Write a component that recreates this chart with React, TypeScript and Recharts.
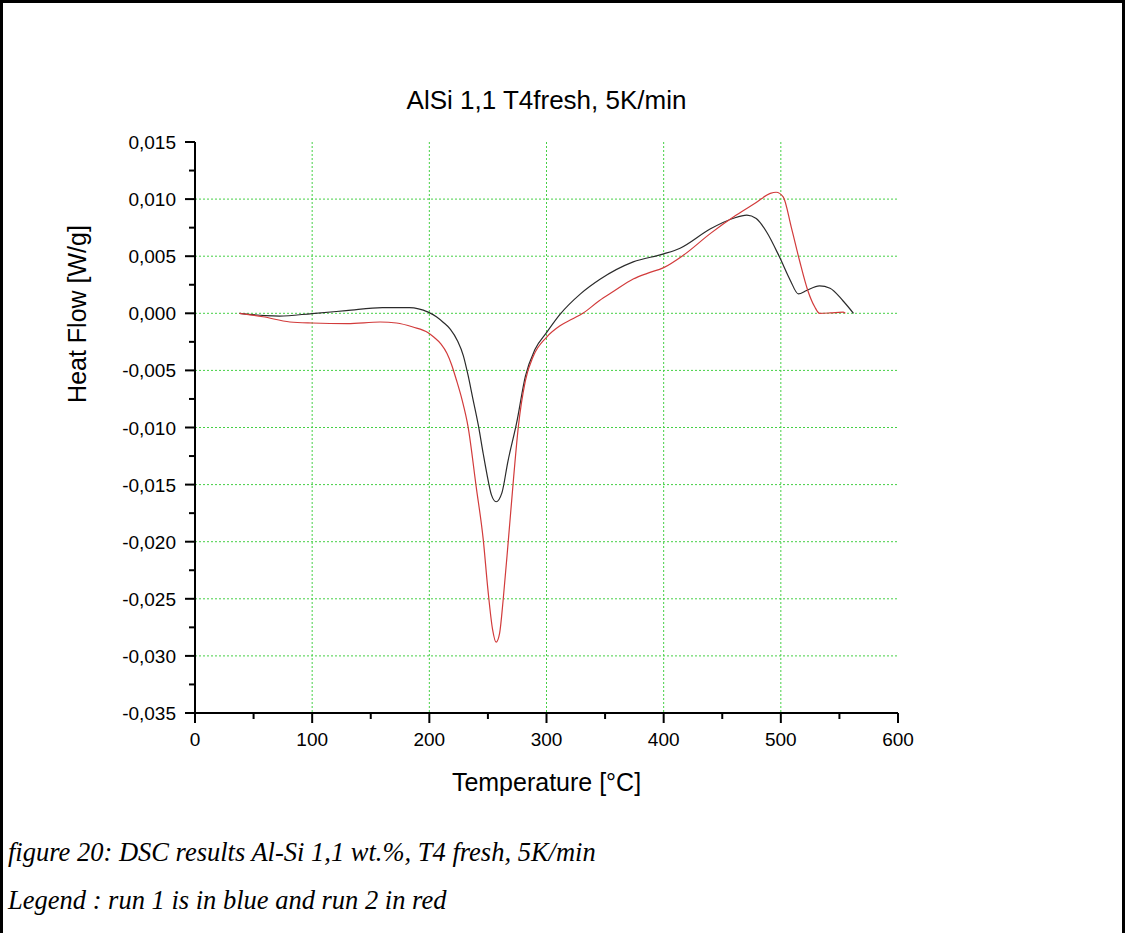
import { CartesianGrid, Label, Line, LineChart, XAxis, YAxis } from "recharts";

// DSC run 1 (dark trace) and run 2 (red trace)
const run1Temp = [38, 60, 72, 100, 129, 160, 183, 199, 206, 212, 218, 224, 229, 233, 237, 242, 246, 249, 253, 257, 262, 267, 274.5, 282, 290, 300, 311.5, 329, 346, 374, 400, 414, 440, 459, 471, 479, 488, 499, 508, 515, 522, 533, 542, 553, 562];
const run1Flow = [0, -0.0002, -0.00024, -0.00002, 0.00023, 0.0005, 0.0005, 0.0001, -0.0003, -0.0008, -0.0014, -0.0024, -0.0037, -0.0054, -0.0074, -0.0099, -0.0123, -0.014, -0.0159, -0.0165, -0.0157, -0.013, -0.0096, -0.0055, -0.0032, -0.0017, -0.0001, 0.0017, 0.003, 0.0045, 0.0052, 0.0057, 0.0074, 0.0083, 0.0086, 0.0083, 0.0071, 0.0049, 0.0029, 0.0017, 0.002, 0.0024, 0.0022, 0.0011, 0];

const run2Temp = [38, 58, 81, 100, 130, 158, 172, 186, 199, 204, 210, 215, 219, 223, 228, 233, 240, 246, 250, 254, 257, 260, 263, 267.5, 272, 276, 282, 289, 300, 311.5, 322, 331, 345, 357, 374, 386, 400, 417, 440, 462, 479, 491, 496, 502, 509, 516, 523, 529, 533, 542, 553, 555];
const run2Flow = [0, -0.0003, -0.00076, -0.00085, -0.0009, -0.00076, -0.00085, -0.0012, -0.0017, -0.0021, -0.0027, -0.0035, -0.0045, -0.0058, -0.0076, -0.0099, -0.0152, -0.0198, -0.0242, -0.0277, -0.0288, -0.028, -0.0251, -0.0198, -0.0143, -0.0099, -0.0059, -0.0037, -0.0021, -0.0011, -0.0005, 0, 0.0011, 0.0019, 0.003, 0.0035, 0.004, 0.0051, 0.007, 0.0086, 0.0097, 0.0105, 0.0106, 0.0102, 0.0075, 0.0046, 0.002, 0.00055, 0, 0.00003, 0.0001, 0];

// major + minor ticks; minor ones get a short tick and no label
const xTicks = [0, 50, 100, 150, 200, 250, 300, 350, 400, 450, 500, 550, 600];
const xLabelled = [0, 100, 200, 300, 400, 500, 600];
const yTicks = [-0.035, -0.0325, -0.03, -0.0275, -0.025, -0.0225, -0.02, -0.0175, -0.015, -0.0125, -0.01, -0.0075, -0.005, -0.0025, 0, 0.0025, 0.005, 0.0075, 0.01, 0.0125, 0.015];
const yLabelled = [-0.035, -0.03, -0.025, -0.02, -0.015, -0.01, -0.005, 0, 0.005, 0.01, 0.015];
const xGrid = [100, 200, 300, 400, 500];
const yGrid = [-0.03, -0.025, -0.02, -0.015, -0.01, -0.005, 0, 0.005, 0.01];

const run1 = run1Temp.map((t, i) => ({ t, v: run1Flow[i] }));
const run2 = run2Temp.map((t, i) => ({ t, v: run2Flow[i] }));

const SANS = "'Liberation Sans', Arial, sans-serif";
const isLabelled = (list: number[], v: number) => list.some((m) => Math.abs(m - v) < 1e-9);
const fmt = (v: number) => (Math.abs(v) < 1e-9 ? "0,000" : v.toFixed(3).replace(".", ","));

function XTick({ x, y, payload }: any) {
  const major = isLabelled(xLabelled, payload.value);
  return (
    <g>
      <line x1={x} x2={x} y1={y} y2={y + (major ? 10 : 6)} stroke="#000" strokeWidth={2} />
      {major && (
        <text x={x} y={y + 33} textAnchor="middle" fontFamily={SANS} fontSize={19} fill="#000">
          {payload.value}
        </text>
      )}
    </g>
  );
}

function YTick({ x, y, payload }: any) {
  const major = isLabelled(yLabelled, payload.value);
  return (
    <g>
      <line x1={x} x2={x - (major ? 10 : 6)} y1={y} y2={y} stroke="#000" strokeWidth={2} />
      {major && (
        <text x={x - 19} y={y + 7} textAnchor="end" fontFamily={SANS} fontSize={19} fill="#000">
          {fmt(payload.value)}
        </text>
      )}
    </g>
  );
}

export default function App() {
  return (
    <div style={{ position: "fixed", left: 0, top: 0, width: 1125, height: 933, background: "#fff" }}>
      <div
        style={{
          position: "absolute",
          left: 0,
          top: 0,
          width: 1119,
          height: 933,
          borderLeft: "3px solid #000",
          borderTop: "3px solid #000",
          borderRight: "3px solid #000",
        }}
      />
      <div
        style={{
          position: "absolute",
          left: 195,
          width: 703,
          top: 84,
          textAlign: "center",
          fontFamily: SANS,
          fontSize: 26,
          lineHeight: "32px",
        }}
      >
        AlSi 1,1 T4fresh, 5K/min
      </div>
      <div style={{ position: "absolute", left: 0, top: 0 }}>
        <LineChart width={1125} height={933} margin={{ top: 142, right: 227, bottom: 160, left: 115 }}>
          <CartesianGrid
            stroke="#45d045"
            strokeDasharray="2 2"
            horizontalValues={yGrid}
            verticalValues={xGrid}
          />
          <XAxis
            type="number"
            dataKey="t"
            domain={[0, 600]}
            ticks={xTicks}
            interval={0}
            height={60}
            tickSize={0}
            tickMargin={0}
            tick={<XTick />}
            tickLine={false}
            axisLine={{ stroke: "#000", strokeWidth: 2 }}
          >
            <Label
              content={({ viewBox }: any) => (
                <text
                  x={viewBox.x + viewBox.width / 2}
                  y={viewBox.y + 78}
                  textAnchor="middle"
                  fontFamily={SANS}
                  fontSize={25}
                  fill="#000"
                >
                  Temperature [°C]
                </text>
              )}
            />
          </XAxis>
          <YAxis
            type="number"
            domain={[-0.035, 0.015]}
            ticks={yTicks}
            interval={0}
            width={80}
            tickSize={0}
            tickMargin={0}
            tick={<YTick />}
            tickLine={false}
            axisLine={{ stroke: "#000", strokeWidth: 2 }}
          >
            <Label
              content={() => (
                <text
                  x={86}
                  y={314}
                  transform="rotate(-90 86 314)"
                  textAnchor="middle"
                  fontFamily={SANS}
                  fontSize={25}
                  fill="#000"
                >
                  Heat Flow [W/g]
                </text>
              )}
            />
          </YAxis>
          <Line
            data={run1}
            dataKey="v"
            type="monotone"
            stroke="#2b2b2b"
            strokeWidth={1.2}
            dot={false}
            isAnimationActive={false}
          />
          <Line
            data={run2}
            dataKey="v"
            type="monotone"
            stroke="#d23b3b"
            strokeWidth={1.2}
            dot={false}
            isAnimationActive={false}
          />
        </LineChart>
      </div>
      <div
        style={{
          position: "absolute",
          left: 8,
          top: 828,
          fontFamily: "'Liberation Serif', 'Times New Roman', serif",
          fontStyle: "italic",
          fontSize: 26.5,
          lineHeight: "48px",
        }}
      >
        <div>figure 20: DSC results Al-Si 1,1 wt.%, T4 fresh, 5K/min</div>
        <div>Legend : run 1 is in blue and run 2 in red</div>
      </div>
    </div>
  );
}
